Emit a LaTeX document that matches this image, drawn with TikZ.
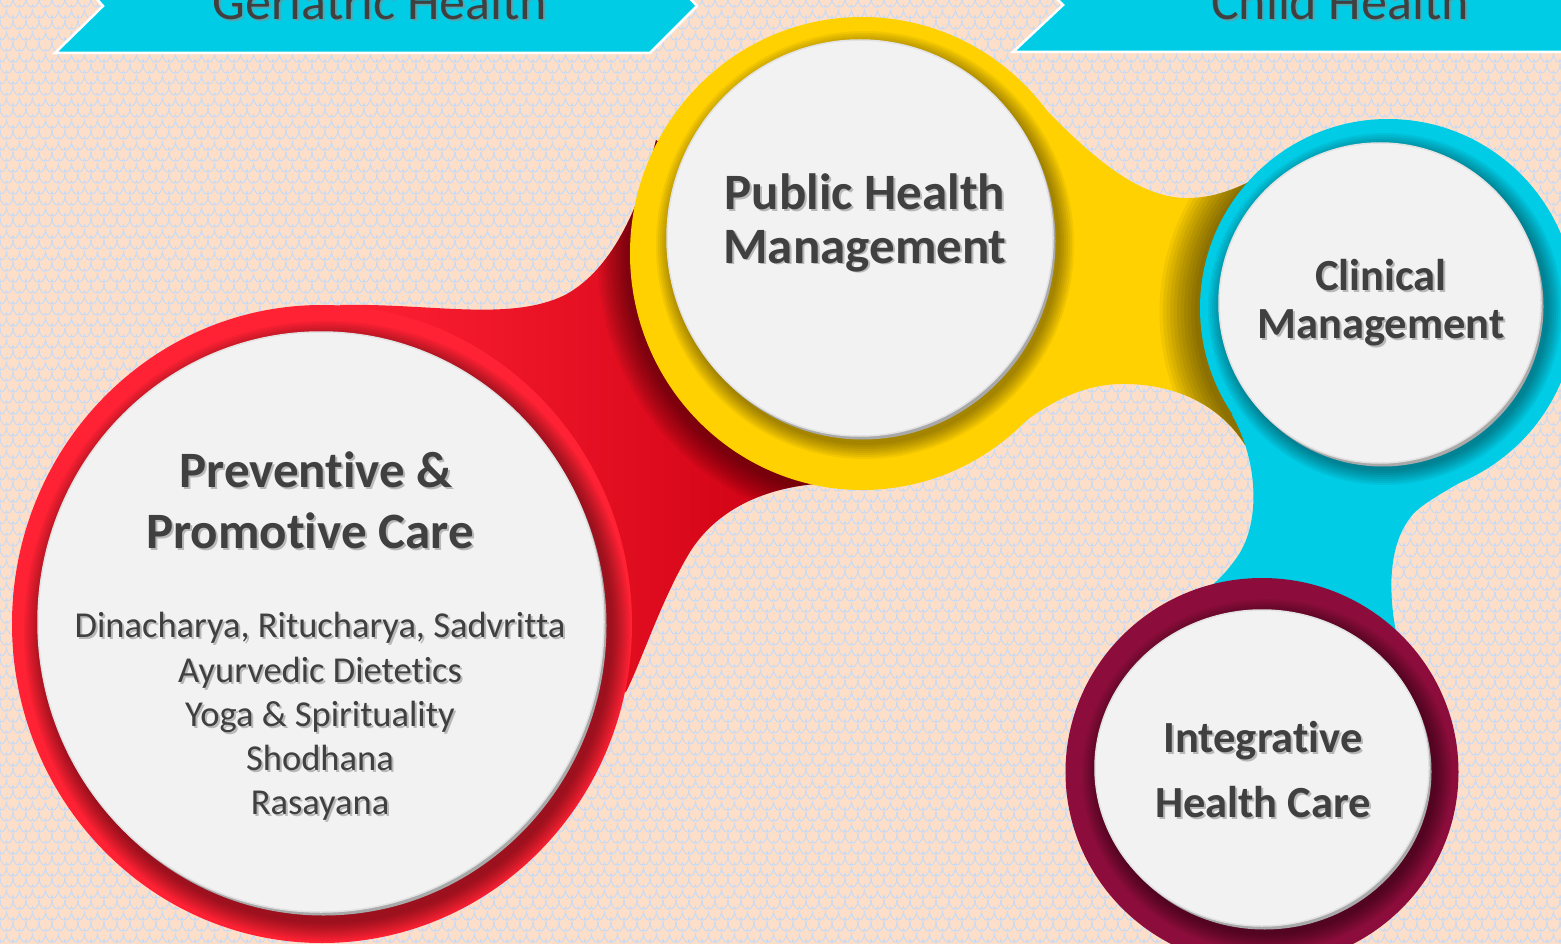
\documentclass[tikz,border=0pt]{standalone}
\usepackage{fontspec}
\setmainfont{Carlito}[Ligatures=NoCommon]
\usetikzlibrary{patterns,calc}
\definecolor{bgpeach}{HTML}{FDDFC9}
\definecolor{bgblue}{HTML}{C8DAF4}
\definecolor{cyanc}{HTML}{00CCE6}
\definecolor{redc}{HTML}{FF2134}
\definecolor{redd}{HTML}{CC0012}
\definecolor{yelc}{HTML}{FFD100}
\definecolor{maroonc}{HTML}{8C0D3B}
\definecolor{discc}{HTML}{F2F2F2}
\definecolor{discedge}{HTML}{E2E2E2}
\definecolor{rimc}{HTML}{A9A9A9}
\definecolor{txtc}{HTML}{404040}
\definecolor{txtsh}{HTML}{8A8A8A}

\pgfdeclarepatternformonly{scales}{\pgfqpoint{-1pt}{-1pt}}{\pgfqpoint{14pt}{23pt}}{\pgfqpoint{13pt}{22pt}}{%
  \pgfsetlinewidth{1pt}%
  \pgfpathmoveto{\pgfqpoint{0pt}{22pt}}%
  \pgfpathcurveto{\pgfqpoint{0pt}{14pt}}{\pgfqpoint{6.5pt}{10pt}}{\pgfqpoint{6.5pt}{15pt}}%
  \pgfpathcurveto{\pgfqpoint{6.5pt}{10pt}}{\pgfqpoint{13pt}{14pt}}{\pgfqpoint{13pt}{22pt}}%
  \pgfpathmoveto{\pgfqpoint{-6.5pt}{11pt}}%
  \pgfpathcurveto{\pgfqpoint{-6.5pt}{3pt}}{\pgfqpoint{0pt}{-1pt}}{\pgfqpoint{0pt}{4pt}}%
  \pgfpathcurveto{\pgfqpoint{0pt}{-1pt}}{\pgfqpoint{6.5pt}{3pt}}{\pgfqpoint{6.5pt}{11pt}}%
  \pgfpathcurveto{\pgfqpoint{6.5pt}{3pt}}{\pgfqpoint{13pt}{-1pt}}{\pgfqpoint{13pt}{4pt}}%
  \pgfpathcurveto{\pgfqpoint{13pt}{-1pt}}{\pgfqpoint{19.5pt}{3pt}}{\pgfqpoint{19.5pt}{11pt}}%
  \pgfpathmoveto{\pgfqpoint{0pt}{0pt}}%
  \pgfpathcurveto{\pgfqpoint{0pt}{-8pt}}{\pgfqpoint{6.5pt}{-12pt}}{\pgfqpoint{6.5pt}{-7pt}}%
  \pgfpathcurveto{\pgfqpoint{6.5pt}{-12pt}}{\pgfqpoint{13pt}{-8pt}}{\pgfqpoint{13pt}{0pt}}%
  \pgfusepath{stroke}%
}

% soft shadow rings: cx cy rx ry steps stepsize
\newcommand{\softshade}[6]{%
  \foreach \k in {1,...,#5}{%
    \fill[black,opacity=0.05] (#1,#2) ellipse [x radius={(#3+\k*#6)*1pt}, y radius={(#4+\k*#6)*1pt}];}}
% white disc: cx cy rx ry
\newcommand{\wdisc}[4]{%
  \fill[rimc] (#1+2.5,#2+3.5) ellipse [x radius=#3pt, y radius=#4pt];
  \fill[discc,draw=discedge,line width=1.5pt] (#1,#2) ellipse [x radius=#3pt, y radius=#4pt];}
% shadowed text: name x y style text
\newcommand{\stext}[5]{%
  \node[anchor=base,inner sep=0pt,text=txtsh,opacity=0.55,#4] (#1-sh) at (#2+2,#3+2) {#5};
  \node[anchor=base,inner sep=0pt,text=txtc,#4] (#1) at (#2,#3) {#5};}

\tikzset{
  title/.style={font=\bfseries\fontsize{51}{51}\selectfont},
  ctitle/.style={font=\bfseries\fontsize{44.5}{44.5}\selectfont},
  body/.style={font=\fontsize{36.5}{36.5}\selectfont},
  bannertxt/.style={font=\fontsize{52}{52}\selectfont},
  banner/.style={fill=cyanc,draw=white,line width=2.5pt},
}

\begin{document}
\begin{tikzpicture}[x=1pt,y=-1pt]
\useasboundingbox (0,0) rectangle (1561,944);
\clip (0,0) rectangle (1561,944);
% background
\fill[bgpeach] (0,0) rectangle (1561,944);
\fill[pattern=scales,pattern color=bgblue] (0,0) rectangle (1561,944);

% banners
\draw[banner] (58,-45) -- (650,-45) -- (697,6) -- (650,53) -- (55,53) -- (103,6) -- cycle;
\draw[banner] (1013,-45) -- (1600,-45) -- (1600,52) -- (1013,52) -- (1063,5) -- cycle;
\stext{geri}{380}{20}{bannertxt}{Geriatric Health}
\stext{child}{1340}{20}{bannertxt}{Child Health}

% red connector
\path[left color=redc,right color=redd]
  (340,305) .. controls (430,303) and (510,322) .. (565,295)
  .. controls (615,268) and (642,200) .. (656,140)
  -- (800,250) -- (815,484)
  .. controls (760,489) and (715,512) .. (690,552)
  .. controls (662,598) and (642,660) .. (626,692)
  -- (420,600) -- cycle;
\begin{scope}
  \clip (340,305) .. controls (430,303) and (510,322) .. (565,295)
  .. controls (615,268) and (642,200) .. (656,140)
  -- (800,250) -- (815,484)
  .. controls (760,489) and (715,512) .. (690,552)
  .. controls (662,598) and (642,660) .. (626,692)
  -- (420,600) -- cycle;
  \softshade{860}{258}{232}{236.5}{10}{3}
\end{scope}

% yellow connector
\fill[yelc]
  (1012,75) .. controls (1075,140) and (1130,200) .. (1190,198)
  .. controls (1230,197) and (1262,175) .. (1290,158)
  -- (1330,300) -- (1245,445)
  .. controls (1220,405) and (1175,383) .. (1120,384)
  .. controls (1070,385) and (1030,415) .. (992,448)
  -- (880,300) -- cycle;
\begin{scope}
  \clip (1012,75) .. controls (1075,140) and (1130,200) .. (1190,198)
  .. controls (1230,197) and (1262,175) .. (1290,158)
  -- (1330,300) -- (1245,445)
  .. controls (1220,405) and (1175,383) .. (1120,384)
  .. controls (1070,385) and (1030,415) .. (992,448)
  -- (880,300) -- cycle;
  \softshade{1386}{312}{188}{189}{11}{3.5}
\end{scope}

% cyan connector
\fill[cyanc]
  (1232,415) .. controls (1258,460) and (1262,525) .. (1235,560)
  .. controls (1222,578) and (1208,590) .. (1192,600)
  -- (1262,720) -- (1396,632)
  .. controls (1388,590) and (1388,540) .. (1415,512)
  .. controls (1445,485) and (1515,462) .. (1542,415)
  -- (1390,310) -- cycle;

% red circle
\fill[redc] (322,624) ellipse [x radius=310pt, y radius=319pt];
\begin{scope}
  \clip (322,624) ellipse [x radius=310pt, y radius=319pt];
  \softshade{327}{631}{283}{290}{9}{2.2}
\end{scope}
\wdisc{321}{622}{283}{290}

% yellow circle
\fill[yelc] (862,253.5) ellipse [x radius=232pt, y radius=236.5pt];
\begin{scope}
  \clip (862,253.5) ellipse [x radius=232pt, y radius=236.5pt];
  \softshade{865}{245}{193}{198}{8}{2}
\end{scope}
\wdisc{860}{238}{193}{198}

% cyan circle
\fill[cyanc] (1388,308) ellipse [x radius=188pt, y radius=189pt];
\begin{scope}
  \clip (1388,308) ellipse [x radius=188pt, y radius=189pt];
  \softshade{1385}{309}{161}{160}{8}{2}
\end{scope}
\wdisc{1380}{303}{161}{160}

% maroon circle
\fill[maroonc] (1262,772) ellipse [x radius=196.5pt, y radius=194pt];
\begin{scope}
  \clip (1262,772) ellipse [x radius=196.5pt, y radius=194pt];
  \softshade{1267}{775}{167}{158}{9}{2}
\end{scope}
\wdisc{1262}{768}{167}{158}

% texts
\stext{phm1}{865}{210}{title}{Public Health}
\stext{phm2}{865}{263}{title}{Management}
\stext{cm1}{1381}{290}{ctitle}{Clinical}
\stext{cm2}{1381}{338}{ctitle}{Management}
\stext{pp1}{316}{487}{title}{Preventive \&}
\stext{pp2}{310}{548}{title}{Promotive Care}
\stext{b1}{320}{637}{body}{Dinacharya, Ritucharya, Sadvritta}
\stext{b2}{320}{682}{body}{Ayurvedic Dietetics}
\stext{b3}{320}{726}{body}{Yoga \& Spirituality}
\stext{b4}{320}{770}{body}{Shodhana}
\stext{b5}{320}{814}{body}{Rasayana}
\stext{ih1}{1263}{752}{ctitle}{Integrative}
\stext{ih2}{1263}{817}{ctitle}{Health Care}
\end{tikzpicture}
\end{document}
